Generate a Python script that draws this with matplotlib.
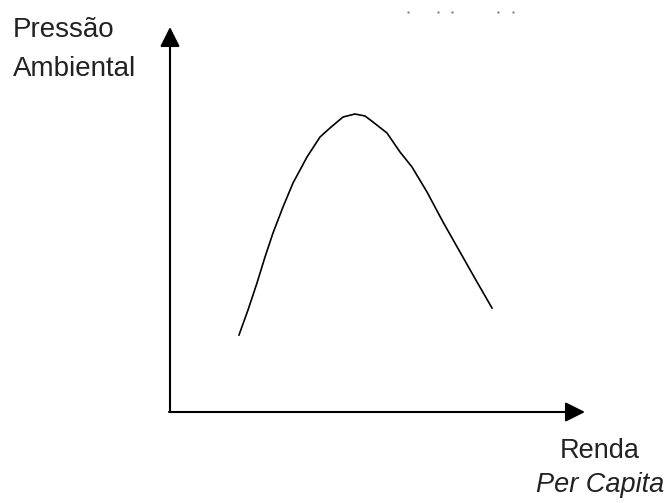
import matplotlib
matplotlib.use("Agg")
import matplotlib.pyplot as plt

# curve (origin at the axes corner, arbitrary units)
renda = [69, 78, 87, 95, 103, 113, 123, 137, 150, 160, 173, 185, 195, 203,
         217, 230, 242, 257, 273, 290, 307, 322]
pressao = [77, 102, 129, 155, 179, 205, 229, 255, 275, 284, 295, 298, 296, 290,
           279, 260, 245, 220, 190, 160, 130, 104]

y_label = "Pressão\nAmbiental"
x_label_top = "Renda"
x_label_bottom = "Per Capita"

# faint specks at the top of the scan
speck_x = [238, 268, 282, 328, 343]
speck_y = [400, 400, 400, 400, 400]


def main():
    plt.rcParams["font.family"] = ["Liberation Sans", "DejaVu Sans"]
    fig = plt.figure(figsize=(6.68, 5.03), dpi=100)
    ax = fig.add_axes([0, 0, 1, 1])
    ax.set_xlim(-170, 498)
    ax.set_ylim(-91, 412)
    ax.axis("off")

    arrow = dict(arrowstyle="-|>,head_length=0.4,head_width=0.2", mutation_scale=30,
                 lw=1.5, color="black", shrinkA=0, shrinkB=0)
    ax.annotate("", xy=(0, 385), xytext=(0, 0), arrowprops=arrow)
    ax.annotate("", xy=(415, 0), xytext=(-1, 0), arrowprops=arrow)

    ax.plot(renda, pressao, color="black", lw=1.2, solid_joinstyle="round")
    ax.scatter(speck_x, speck_y, s=3, color="#888888", linewidths=0)

    ax.text(-157, 375, y_label.split("\n")[0], fontsize=20, color="#222222", va="baseline")
    ax.text(-157, 336, y_label.split("\n")[1], fontsize=20, color="#222222", va="baseline")
    ax.text(430, -46, x_label_top, fontsize=19.5, color="#222222", ha="center", va="baseline")
    ax.text(430, -80, x_label_bottom, fontsize=19.5, color="#222222", ha="center", va="baseline",
            style="italic")

    fig.savefig("out.png", dpi=100)


if __name__ == "__main__":
    main()
